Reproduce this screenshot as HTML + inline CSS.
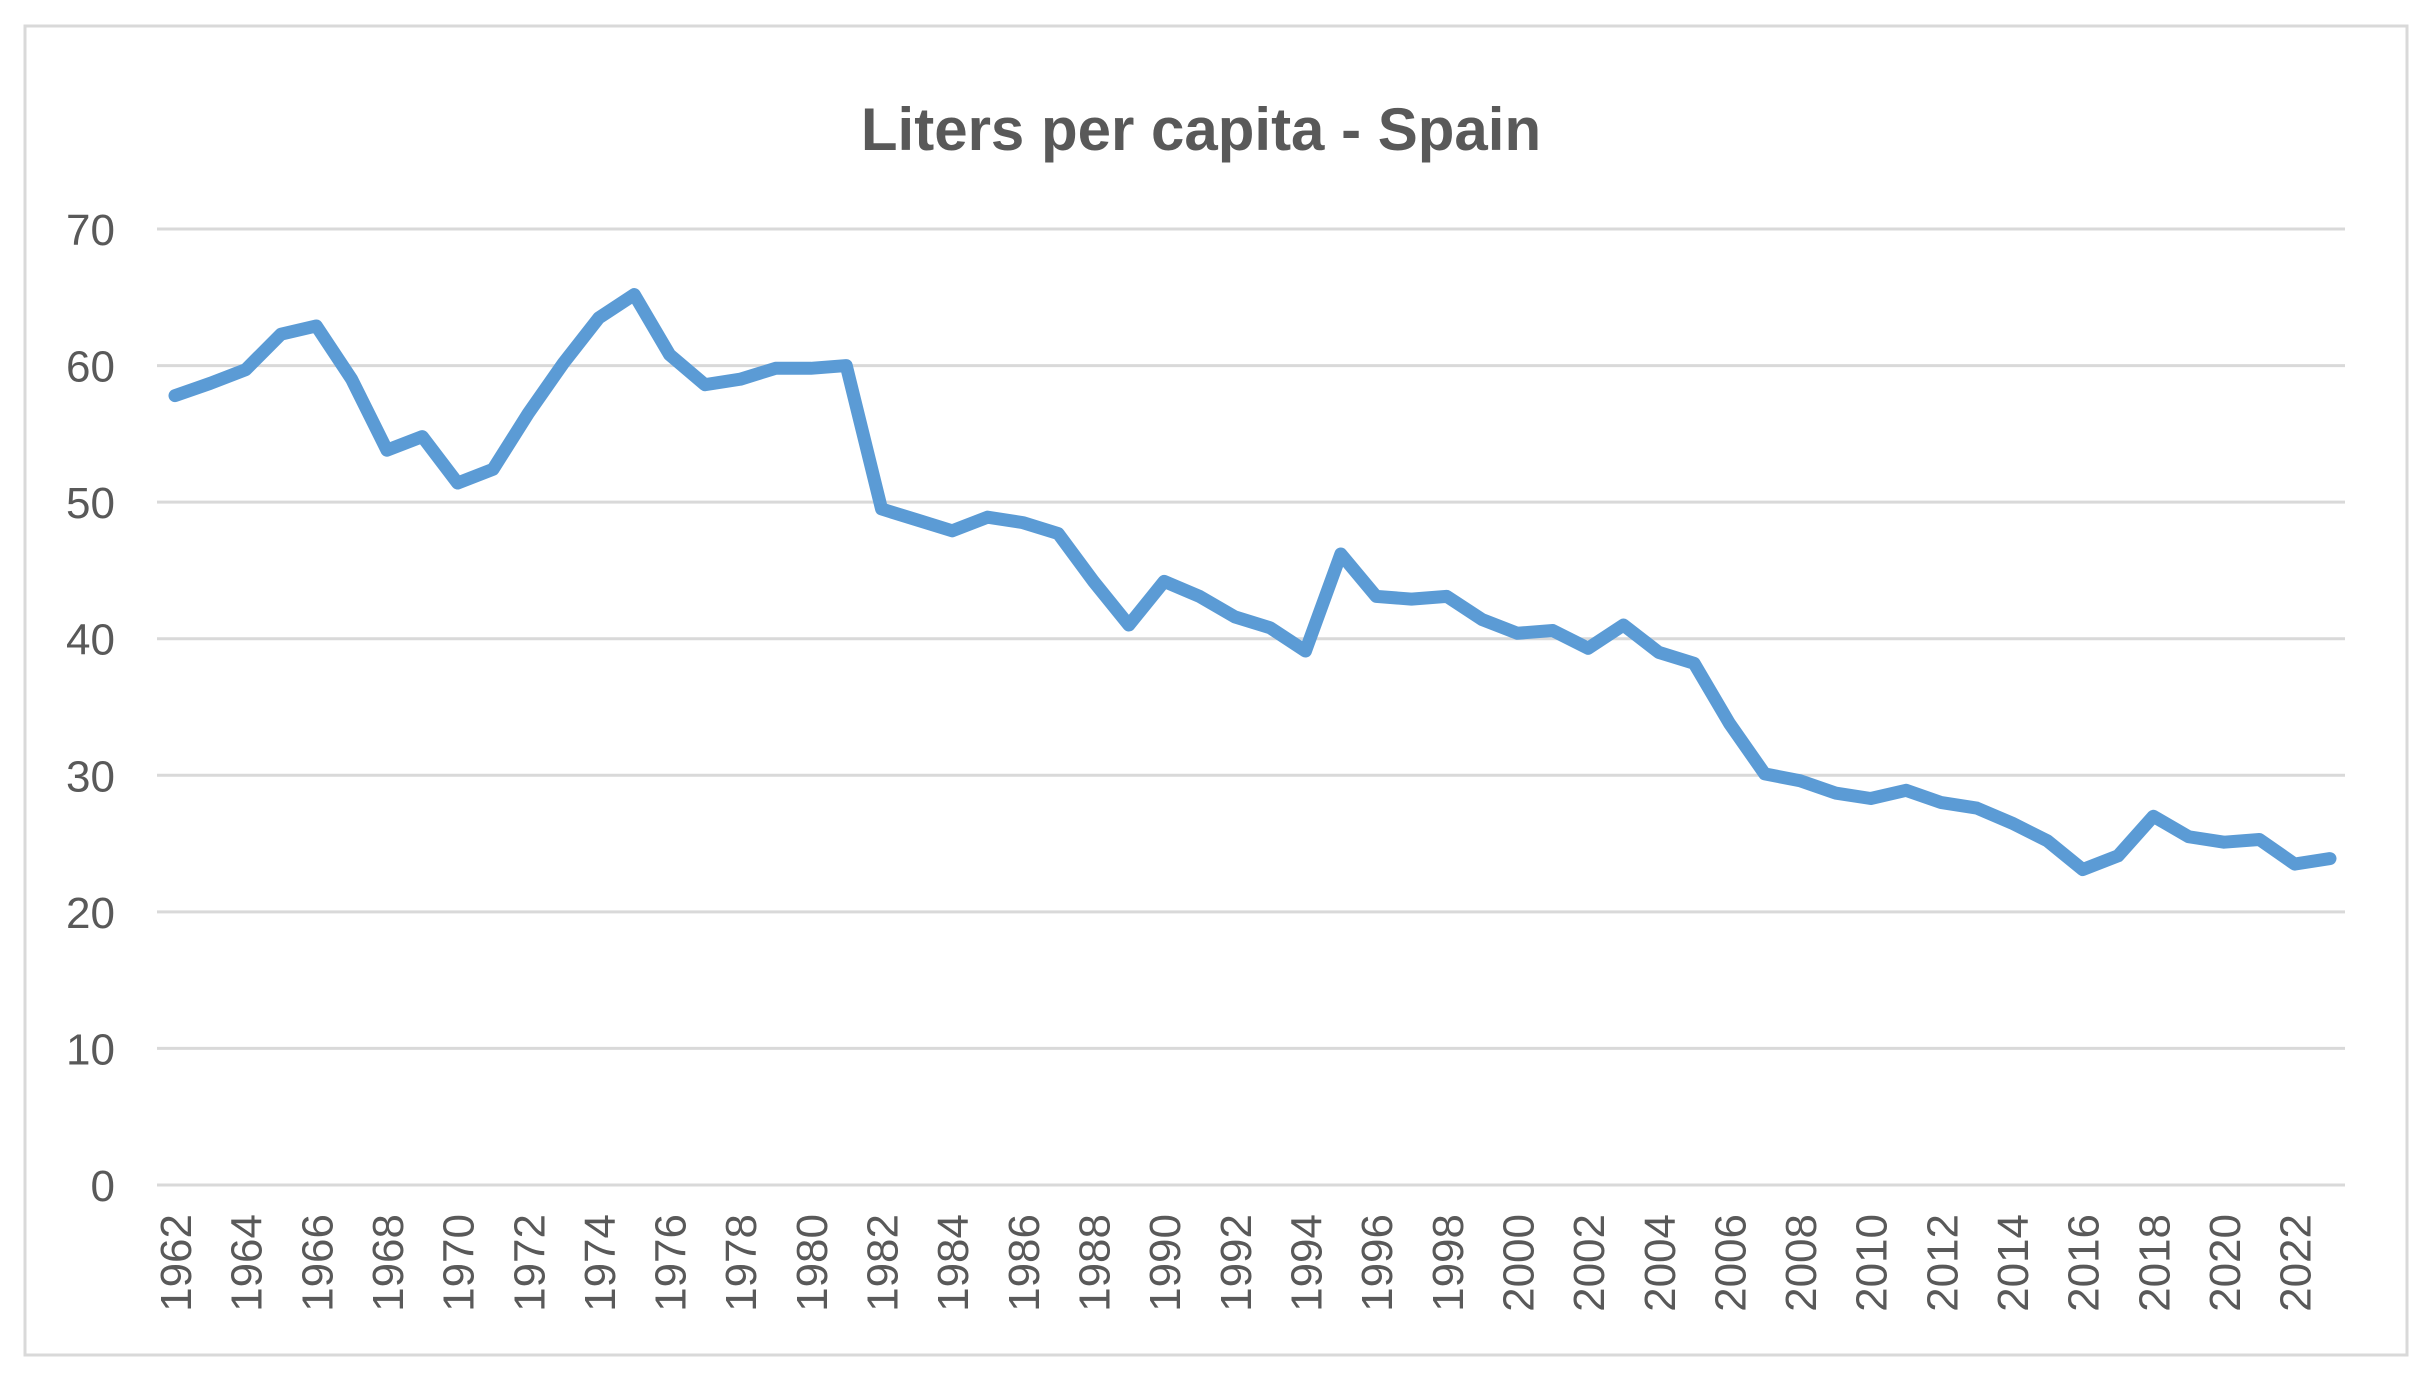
<!DOCTYPE html>
<html><head><meta charset="utf-8"><style>
html,body{margin:0;padding:0;background:#fff;}
svg{display:block;font-family:"Liberation Sans",sans-serif;}
</style></head><body>
<svg id="chart" width="2424" height="1377">
<rect x="25" y="26" width="2382" height="1329" fill="#fff" stroke="#d9d9d9" stroke-width="3"/>
<text x="1201" y="150" text-anchor="middle" font-size="60" font-weight="bold" fill="#595959">Liters per capita - Spain</text>
<g id="grid"></g><g id="ylabels"></g><g id="xlabels"></g><g id="series"></g>
</svg>
<script>
const years = [];
for (let y = 1962; y <= 2023; y++) years.push(y);
const values = [57.8,58.7,59.7,62.3,62.9,59,53.8,54.8,51.4,52.4,56.5,60.2,63.5,65.2,60.8,58.6,59,59.8,59.8,60,49.5,48.7,47.9,48.9,48.5,47.7,44.2,41,44.2,43.1,41.6,40.8,39.1,46.2,43.1,42.9,43.1,41.4,40.4,40.6,39.3,41,39,38.2,33.8,30.1,29.6,28.7,28.3,28.9,28,27.6,26.5,25.2,23.1,24.1,27,25.5,25.1,25.3,23.5,23.9];
const yTicks = [0,10,20,30,40,50,60,70];
const NS = "http://www.w3.org/2000/svg";
const yScale = v => 1185 - (v / 70) * (1185 - 229);
const xScale = i => 175 + i * (2330 - 175) / (years.length - 1);
const grid = document.getElementById('grid'), yl = document.getElementById('ylabels'), xl = document.getElementById('xlabels'), ser = document.getElementById('series');
yTicks.forEach(t => {
  const l = document.createElementNS(NS, 'line');
  l.setAttribute('x1', 157); l.setAttribute('x2', 2345);
  l.setAttribute('y1', yScale(t)); l.setAttribute('y2', yScale(t));
  l.setAttribute('stroke', '#d9d9d9'); l.setAttribute('stroke-width', '3');
  
  
  grid.appendChild(l);
  const tx = document.createElementNS(NS, 'text');
  tx.setAttribute('x', 115); tx.setAttribute('y', yScale(t) + 16);
  tx.setAttribute('text-anchor', 'end'); tx.setAttribute('font-size', '44'); tx.setAttribute('fill', '#595959');
  tx.textContent = t;
  
  
  yl.appendChild(tx);
});
years.forEach((y, i) => {
  if (y % 2 !== 0) return;
  const x = xScale(i);
  const tx = document.createElementNS(NS, 'text');
  tx.setAttribute('transform', 'translate(' + (x + 16) + ',1214) rotate(-90)');
  tx.setAttribute('text-anchor', 'end'); tx.setAttribute('font-size', '44'); tx.setAttribute('fill', '#595959');
  tx.textContent = y;
  
  
  xl.appendChild(tx);
});
const p = document.createElementNS(NS, 'polyline');
p.setAttribute('points', values.map((v, i) => xScale(i) + ',' + yScale(v)).join(' '));
p.setAttribute('fill', 'none'); p.setAttribute('stroke', '#5b9bd5'); p.setAttribute('stroke-width', '13');
p.setAttribute('stroke-linejoin', 'round'); p.setAttribute('stroke-linecap', 'round');


ser.appendChild(p);
</script>
</body></html>
